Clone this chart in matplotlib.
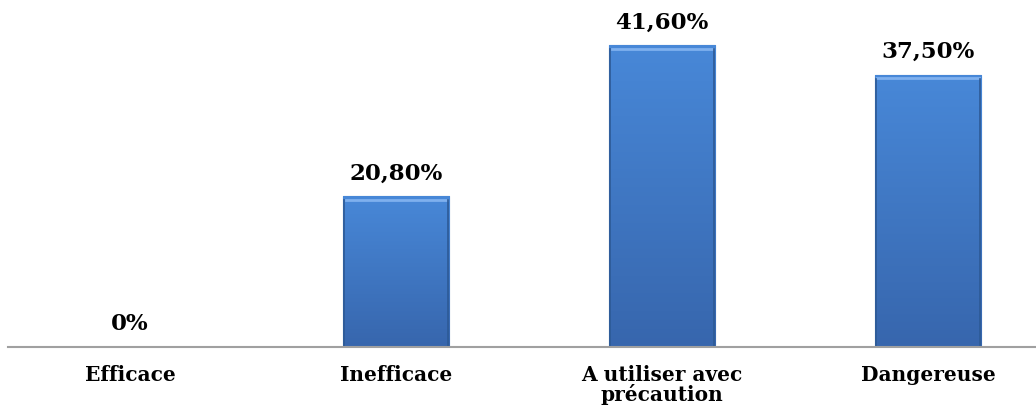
import numpy as np
import matplotlib
matplotlib.use("Agg")
import matplotlib.pyplot as plt
from matplotlib.colors import LinearSegmentedColormap

categories = ["Efficace", "Inefficace", "A utiliser avec\nprécaution", "Dangereuse"]
values = [0, 20.8, 41.6, 37.5]
labels = ["0%", "20,80%", "41,60%", "37,50%"]

plt.rcParams['font.family'] = ['DejaVu Serif', 'Liberation Serif']

fig = plt.figure(figsize=(10.36, 4.09), dpi=100)
ax = fig.add_axes([8 / 1036, 1 - 347 / 409, 1 - 8 / 1036, 347 / 409])

x = np.arange(len(categories))
bars = ax.bar(x, values, width=0.4, color="#3f78c6", edgecolor="#2f5f9e", linewidth=0.8, zorder=2)

# vertical gradient inside each bar
cmap = LinearSegmentedColormap.from_list("blu", ["#3766ad", "#4888d8"])
grad = np.linspace(0, 1, 256).reshape(-1, 1)
for b in bars:
    if b.get_height() <= 0:
        continue
    x0, w, h = b.get_x(), b.get_width(), b.get_height()
    im = ax.imshow(grad, extent=[x0, x0 + w, 0, h], origin="lower", cmap=cmap,
                   aspect="auto", zorder=3)
    im.set_clip_path(b)
    # bevel highlights
    ax.plot([x0 + 0.01, x0 + w - 0.01], [h - 0.5, h - 0.5], color="#7fb0ee", lw=2, zorder=4)
    ax.plot([x0 + 0.006, x0 + 0.006], [0, h - 0.6], color="#2d5a96", lw=1.2, zorder=4)
    ax.plot([x0 + w - 0.006, x0 + w - 0.006], [0, h - 0.6], color="#2d5a96", lw=1.2, zorder=4)

for xi, v, lab in zip(x, values, labels):
    ax.text(xi, v + 1.6, lab, ha="center", va="bottom", fontsize=16.5, fontweight="bold")

ax.set_xlim(-0.459, 3.406)
ax.set_ylim(0, 47.8)
ax.set_xticks(x)
ax.set_xticklabels(categories, fontsize=14.5, fontweight="bold", linespacing=0.95)
ax.tick_params(axis="x", length=0, pad=13)
ax.set_yticks([])
for s in ["top", "right", "left"]:
    ax.spines[s].set_visible(False)
ax.spines["bottom"].set_color("#a0a0a0")
ax.spines["bottom"].set_linewidth(1.5)
ax.spines["bottom"].set_zorder(5)

fig.savefig("out.png", dpi=100)
